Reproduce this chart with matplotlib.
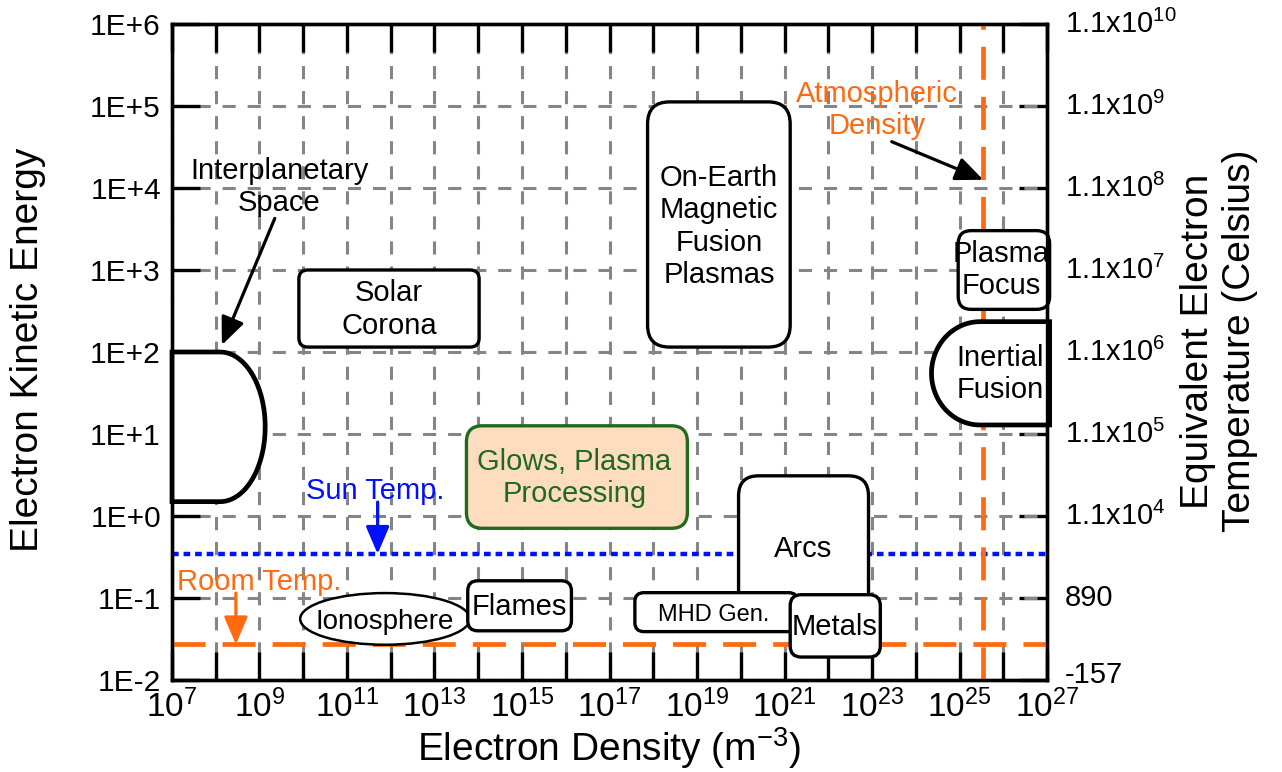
import numpy as np
import matplotlib
matplotlib.use("Agg")
import matplotlib.pyplot as plt
import matplotlib.transforms as mtransforms
from matplotlib.patches import FancyBboxPatch, Ellipse, Polygon
from matplotlib.ticker import FixedLocator, FixedFormatter, NullLocator

plt.rcParams['font.family'] = ['Liberation Sans', 'DejaVu Sans']
plt.rcParams['mathtext.fontset'] = 'custom'
plt.rcParams['mathtext.rm'] = 'Liberation Sans'
plt.rcParams['mathtext.it'] = 'Liberation Sans:italic'
plt.rcParams['mathtext.bf'] = 'Liberation Sans:bold'

# --- axes ranges: electron density (m^-3) vs kinetic energy (eV) ---
X_LIM = (1e7, 1e27)
Y_LIM = (1e-2, 1e6)
x_tick_exp = list(range(7, 28))
y_tick_exp = list(range(-2, 7))
y_left_labels = ['1E-2', '1E-1', '1E+0', '1E+1', '1E+2', '1E+3', '1E+4', '1E+5', '1E+6']
y_right_labels = ['-157', '890'] + [r'$\mathregular{1.1x10^{%d}}$' % e for e in range(4, 11)]

# reference lines
sun_temp_ev = 0.345
room_temp_ev = 0.0272
atm_density = 3.5e25

# rounded regions, given as log10(density) and log10(energy) ranges
box_names = ['Solar\nCorona', 'On-Earth\nMagnetic\nFusion\nPlasmas', 'Glows, Plasma\nProcessing',
             'Arcs', 'MHD Gen.', 'Metals', 'Flames', 'Plasma\nFocus']
box_logn = [(9.9, 14.02), (17.87, 21.13), (13.73, 18.78), (19.95, 22.92),
            (17.58, 21.3), (21.13, 23.19), (13.76, 16.13), (24.97, 27.06)]
box_loge = [(2.06, 3.0), (2.06, 5.05), (-0.15, 1.1), (-1.25, 0.49),
            (-1.41, -0.935), (-1.72, -0.96), (-1.40, -0.79), (2.52, 3.48)]
box_label_at = [(11.96, 2.52), (19.5, 3.53), (16.2, 0.46), (21.42, -0.40),
                (19.37, -1.21), (22.15, -1.35), (14.93, -1.11), (25.96, 3.0)]

# ionosphere ellipse: centre and full extent in decades
iono_center = (11.87, -1.255)
iono_size = (3.88, 0.63)

# half-rounded regions: wall side, start of curve, energy range, curve depth (log10 units)
interplanetary = dict(wall=7.0, flat=8.1, e0=0.175, e1=2.0, depth=1.03)
inertial = dict(wall=27.06, flat=25.47, e0=1.11, e1=2.37, depth=-1.11)

# --- styles ---
box_radius_px = [9, 22, 16, 20, 9, 11, 10, 13]
box_fontsize = [21, 21, 21, 21, 17, 21, 21, 21]
ORANGE = '#ff6a10'
GREEN = '#1f6a1f'
BLUE = '#0010ff'

fig = plt.figure(figsize=(12.82, 7.72), dpi=100)
ax = fig.add_axes([172 / 1282, 92 / 772, 875 / 1282, 656 / 772])
ax2 = ax.twinx()
ax.set_zorder(ax2.get_zorder() + 1)
ax.patch.set_visible(False)

for a in (ax, ax2):
    a.set_yscale('log')
    a.set_ylim(*Y_LIM)
ax.set_xscale('log')
ax.set_xlim(*X_LIM)

ax.xaxis.set_major_locator(FixedLocator([10.0 ** e for e in x_tick_exp]))
ax.xaxis.set_major_formatter(FixedFormatter(
    [r'$\mathregular{10^{%d}}$' % e if e % 2 else '' for e in x_tick_exp]))
ax.xaxis.set_minor_locator(NullLocator())
ax.yaxis.set_major_locator(FixedLocator([10.0 ** e for e in y_tick_exp]))
ax.yaxis.set_major_formatter(FixedFormatter(y_left_labels))
ax.yaxis.set_minor_locator(NullLocator())
ax2.yaxis.set_major_locator(FixedLocator([10.0 ** e for e in y_tick_exp]))
ax2.yaxis.set_major_formatter(FixedFormatter(y_right_labels))
ax2.yaxis.set_minor_locator(NullLocator())

ax.tick_params(axis='both', which='major', direction='in', length=20, width=2.4,
               top=True, right=False)
ax.tick_params(axis='x', labelsize=24, pad=7)
ax.tick_params(axis='y', labelsize=21.5, pad=8)
ax2.tick_params(axis='y', which='major', direction='in', length=20, width=2.4,
                labelsize=21, pad=13)
for a in (ax, ax2):
    for s in a.spines.values():
        s.set_linewidth(2.4)

# right-hand labels sit a little above their ticks
for i, tk in enumerate(ax2.yaxis.get_major_ticks()):
    dy = 8 if i == 0 else 3
    tk.label2.set_transform(tk.label2.get_transform() +
                            mtransforms.ScaledTranslation(0, dy / 100, fig.dpi_scale_trans))

ax.set_axisbelow(True)
ax.grid(True, which='major', color='#858585', linestyle=(0, (4.3, 3.9)), linewidth=2.2)

# reference lines
ax.axhline(sun_temp_ev, color=BLUE, lw=3.2, linestyle=(0, (1.5, 1.1)), zorder=1.5)
ax.axhline(room_temp_ev, color=ORANGE, lw=3.4, linestyle=(0, (7, 3.6)), zorder=1.5)
ax.axvline(atm_density, color=ORANGE, lw=3.4, linestyle=(0, (7, 3.6)), zorder=1.5,
           clip_on=False)

# transform taking log10 coordinates straight to the axes
tlog = ax.transLimits + ax.transAxes
dec_x_px = 875 / 20.0
dec_y_px = 656 / 8.0
aspect = dec_x_px / dec_y_px

ax.add_patch(Ellipse(iono_center, iono_size[0], iono_size[1], transform=tlog,
                     facecolor='white', edgecolor='black', lw=1.8, zorder=2))
ax.text(10 ** iono_center[0], 10 ** -1.29, 'Ionosphere', fontsize=20,
        ha='center', va='center', zorder=3)

for i, name in enumerate(box_names):
    (n0, n1), (e0, e1) = box_logn[i], box_loge[i]
    glow = name.startswith('Glows')
    r = box_radius_px[i] / dec_x_px
    p = FancyBboxPatch((n0, e0), n1 - n0, e1 - e0,
                       boxstyle='round,pad=0,rounding_size=%.4f' % r,
                       mutation_aspect=aspect, transform=tlog,
                       facecolor='#fddcc0' if glow else 'white',
                       edgecolor=GREEN if glow else 'black',
                       lw=2.4, zorder=2, clip_on=False)
    ax.add_patch(p)
    lx, ly = box_label_at[i]
    ax.text(10 ** lx, 10 ** ly, name, fontsize=box_fontsize[i], ha='center',
            va='center', multialignment='center', linespacing=1.2,
            color=GREEN if glow else 'black', zorder=3)


def half_round(d):
    t = np.linspace(np.pi / 2, -np.pi / 2, 60)
    cy = 0.5 * (d['e0'] + d['e1'])
    ry = 0.5 * (d['e1'] - d['e0'])
    curve = np.column_stack([d['flat'] + d['depth'] * np.cos(t), cy + ry * np.sin(t)])
    pts = np.vstack([[d['wall'], d['e1']], curve, [d['wall'], d['e0']]])
    return Polygon(pts, closed=True, transform=tlog, facecolor='white',
                   edgecolor='black', lw=3.4, zorder=2, clip_on=False,
                   joinstyle='miter')


ax.add_patch(half_round(interplanetary))
ax.add_patch(half_round(inertial))
ax.text(10 ** 25.93, 10 ** 1.73, 'Inertial\nFusion', fontsize=21, ha='center',
        va='center', multialignment='center', zorder=3)

# annotations
arrow_k = dict(arrowstyle='-|>,head_length=0.7,head_width=0.3', lw=2.3, color='black',
               mutation_scale=24, shrinkA=0, shrinkB=0)
ax.text(10 ** 9.45, 10 ** 4.01, 'Interplanetary\nSpace', fontsize=21, ha='center',
        va='center', multialignment='center', zorder=3)
ax.annotate('', xy=(10 ** 8.14, 10 ** 2.085), xytext=(10 ** 9.35, 10 ** 3.63),
            arrowprops=arrow_k, zorder=3)
ax.text(10 ** 23.11, 10 ** 4.95, 'Atmospheric\nDensity', fontsize=21, ha='center',
        va='center', multialignment='center', color=ORANGE, zorder=3)
ax.annotate('', xy=(atm_density, 10 ** 4.10), xytext=(10 ** 23.45, 10 ** 4.565),
            arrowprops=arrow_k, zorder=3)
ax.text(10 ** 11.64, 10 ** 0.30, 'Sun Temp.', fontsize=21, ha='center', va='center',
        color=BLUE, zorder=3)
ax.annotate('', xy=(10 ** 11.7, sun_temp_ev), xytext=(10 ** 11.7, 10 ** 0.17),
            arrowprops=dict(arrow_k, color=BLUE), zorder=3)
ax.text(10 ** 8.99, 10 ** -0.80, 'Room Temp.', fontsize=21, ha='center', va='center',
        color=ORANGE, zorder=3)
ax.annotate('', xy=(10 ** 8.46, room_temp_ev), xytext=(10 ** 8.46, 10 ** -0.94),
            arrowprops=dict(arrow_k, color=ORANGE), zorder=3)

# axis titles
fig.text(28 / 1282, 1 - 350 / 772, 'Electron Kinetic Energy', fontsize=28,
         rotation=90, ha='center', va='center')
fig.text(609 / 1282, 24 / 772, r'Electron Density (m$^{\mathregular{-3}}$)',
         fontsize=28, ha='center', va='center')
fig.text(1219 / 1282, 1 - 341 / 772, 'Equivalent Electron\nTemperature (Celsius)',
         fontsize=28, rotation=90, ha='center', va='center', multialignment='center')

fig.savefig('out.png', dpi=100)
